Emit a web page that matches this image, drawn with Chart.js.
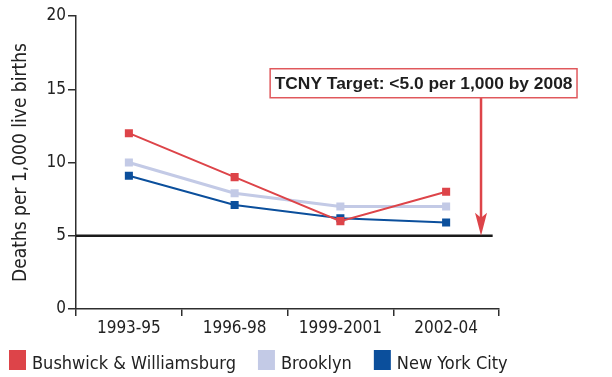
<!DOCTYPE html>
<html>
<head>
<meta charset="utf-8">
<script src="https://cdn.jsdelivr.net/npm/chart.js@4.4.1/dist/chart.umd.min.js"></script>
<style>
  html, body { margin: 0; padding: 0; background: #fff; }
  #wrap { width: 612px; height: 377px; position: relative; }
</style>
</head>
<body>
<div id="wrap"><canvas id="imr"></canvas></div>
<script>
// Infant mortality, deaths per 1,000 live births
const periods = ['1993-95', '1996-98', '1999-2001', '2002-04'];
const bushwick = [12.0, 9.0, 6.0, 8.0];
const brooklyn = [10.0, 7.9, 7.0, 7.0];
const nyc = [9.1, 7.1, 6.2, 5.9];
const seriesNames = ['Bushwick & Williamsburg', 'Brooklyn', 'New York City'];
const yTicks = [0, 5, 10, 15, 20];
const TARGET = 5;
const targetNote = 'TCNY Target: <5.0 per 1,000 by 2008';

const RED = '#dd4449';
const LAVENDER = '#c3cae6';
const BLUE = '#0b4f9c';
const AXIS = '#2e2e2e';
const INK = '#222';
const FONT = "'DejaVu Sans Condensed', 'DejaVu Sans', sans-serif";

function series(label, data, color, width) {
  return {
    label, data,
    borderColor: color,
    backgroundColor: color,
    borderWidth: width,
    pointStyle: 'rect',
    pointRadius: 5.7,
    pointHoverRadius: 5.7,
    pointBorderWidth: 0,
    pointBackgroundColor: color,
    tension: 0,
  };
}

// black target line at 5.0 plus the callout box and arrow
const targetLine = {
  id: 'targetLine',
  beforeDatasetsDraw(chart) {
    const { ctx, chartArea, scales: { x, y } } = chart;
    const py = y.getPixelForValue(TARGET);
    ctx.save();
    ctx.strokeStyle = '#1a1a1a';
    ctx.lineWidth = 2.5;
    ctx.beginPath();
    ctx.moveTo(chartArea.left, py);
    ctx.lineTo(x.getPixelForValue(3.44), py);
    ctx.stroke();
    ctx.restore();
  },
  afterDraw(chart) {
    const { ctx, scales: { x, y } } = chart;
    const ax = x.getPixelForValue(3.33);
    const tipY = y.getPixelForValue(TARGET);
    ctx.save();
    ctx.font = "bold 17.4px 'Liberation Sans', Arial, sans-serif";
    const tw = ctx.measureText(targetNote).width;
    const boxR = ax + 96, boxL = boxR - tw - 9;
    const boxT = y.getPixelForValue(16.4), boxH = 29;

    // arrow shaft + head
    ctx.strokeStyle = RED;
    ctx.fillStyle = RED;
    ctx.lineWidth = 2.5;
    ctx.beginPath();
    ctx.moveTo(ax, boxT + boxH);
    ctx.lineTo(ax, tipY - 16);
    ctx.stroke();
    ctx.beginPath();
    ctx.moveTo(ax, tipY);
    ctx.lineTo(ax - 6, tipY - 23);
    ctx.lineTo(ax, tipY - 18);
    ctx.lineTo(ax + 6, tipY - 23);
    ctx.closePath();
    ctx.fill();

    ctx.fillStyle = '#fff';
    ctx.fillRect(boxL, boxT, boxR - boxL, boxH);
    ctx.lineWidth = 1.5;
    ctx.strokeStyle = '#e0585c';
    ctx.strokeRect(boxL, boxT, boxR - boxL, boxH);

    ctx.fillStyle = '#1e1e1e';
    ctx.textAlign = 'center';
    ctx.textBaseline = 'middle';
    ctx.fillText(targetNote, (boxL + boxR) / 2, boxT + boxH / 2 + 1);
    ctx.restore();
  }
};

// single-row legend along the bottom edge
const legendRow = {
  id: 'legendRow',
  afterDraw(chart) {
    const { ctx } = chart;
    ctx.save();
    ctx.font = `18px ${FONT}`;
    ctx.textBaseline = 'alphabetic';
    let lx = 9;
    chart.data.datasets.forEach(ds => {
      ctx.fillStyle = ds.borderColor;
      ctx.fillRect(lx, 350, 17, 20);
      ctx.fillStyle = INK;
      ctx.fillText(ds.label, lx + 23, 369);
      lx += 23 + ctx.measureText(ds.label).width + 22;
    });
    ctx.restore();
  }
};

new Chart(document.getElementById('imr'), {
  type: 'line',
  data: {
    labels: periods,
    datasets: [
      series(seriesNames[0], bushwick, RED, 2),
      series(seriesNames[1], brooklyn, LAVENDER, 3),
      series(seriesNames[2], nyc, BLUE, 2),
    ],
  },
  options: {
    responsive: true,
    maintainAspectRatio: false,
    animation: false,
    events: [],
    layout: { padding: { top: 16, right: 113, bottom: 43, left: 0 } },
    plugins: { legend: { display: false }, tooltip: { enabled: false } },
    scales: {
      x: {
        offset: true,
        grid: { offset: true, drawOnChartArea: false, drawTicks: true, tickLength: 7, color: AXIS, lineWidth: 1.5 },
        border: { display: true, color: AXIS, width: 1.5 },
        ticks: { color: INK, font: { family: FONT, size: 17 }, padding: 2, maxRotation: 0 },
        afterFit(scale) { scale.height = 25; },
      },
      y: {
        min: 0, max: 20,
        afterBuildTicks(scale) { scale.ticks = yTicks.map(v => ({ value: v })); },
        grid: { drawOnChartArea: false, drawTicks: true, tickLength: 8, color: AXIS, lineWidth: 1.5 },
        border: { display: true, color: AXIS, width: 1.5 },
        ticks: { color: INK, font: { family: FONT, size: 17 }, padding: 2 },
        title: {
          display: true,
          text: 'Deaths per 1,000 live births',
          color: INK,
          font: { family: FONT, size: 19 },
          padding: { top: 10, bottom: 0 },
        },
        afterFit(scale) { scale.width = 76; },
      },
    },
  },
  plugins: [targetLine, legendRow],
});
</script>
</body>
</html>
